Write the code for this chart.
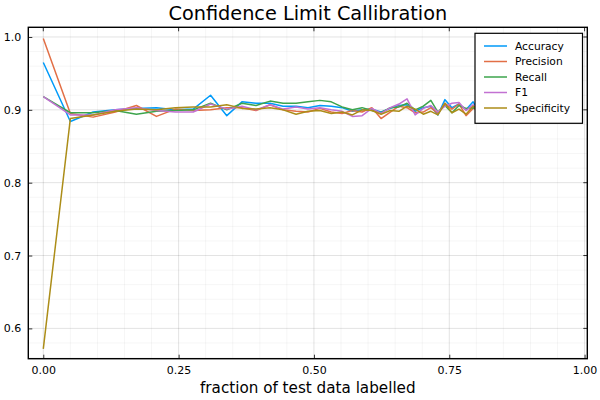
<!DOCTYPE html>
<html>
<head>
<meta charset="utf-8">
<script src="https://cdn.jsdelivr.net/npm/d3@7"></script>
<style>
  body { margin: 0; background: #fff; }
  svg { display: block; font-family: "DejaVu Sans", sans-serif; }
</style>
</head>
<body>
<div id="chart"></div>
<script>
const width = 600,
  height = 400;
const marginLeft = 28.3,
  marginRight = 12.7,
  marginTop = 27.3,
  marginBottom = 41.3;

// fraction of test data labelled (x) for each confidence limit
const fractions = [
  0, 0.05, 0.092, 0.133, 0.172, 0.209, 0.244, 0.277, 0.309, 0.339,
  0.367, 0.393, 0.419, 0.443, 0.467, 0.489, 0.511, 0.532, 0.552, 0.571,
  0.589, 0.607, 0.624, 0.641, 0.657, 0.672, 0.687, 0.702, 0.716, 0.729,
  0.742, 0.755, 0.768, 0.781, 0.794, 0.806, 0.818, 0.83, 0.842,
];
const accuracy = [
  0.965, 0.884, 0.897, 0.9, 0.902, 0.903, 0.9, 0.901, 0.92, 0.892,
  0.911, 0.909, 0.909, 0.905, 0.905, 0.903, 0.906, 0.905, 0.903, 0.898,
  0.9, 0.901, 0.897, 0.902, 0.906, 0.907, 0.898, 0.903, 0.905, 0.893,
  0.914, 0.903, 0.908, 0.9, 0.911, 0.897, 0.905, 0.901, 0.906,
];
const precision = [
  0.998, 0.895, 0.89, 0.897, 0.906, 0.891, 0.901, 0.899, 0.9, 0.903,
  0.903, 0.899, 0.907, 0.9, 0.898, 0.897, 0.902, 0.897, 0.895, 0.899,
  0.897, 0.903, 0.888, 0.897, 0.905, 0.903, 0.896, 0.897, 0.903, 0.895,
  0.909, 0.901, 0.908, 0.892, 0.902, 0.899, 0.906, 0.896, 0.903,
];
const recall = [
  0.918, 0.896, 0.896, 0.899, 0.894, 0.898, 0.899, 0.9, 0.909, 0.9,
  0.909, 0.906, 0.912, 0.909, 0.909, 0.911, 0.913, 0.911, 0.904, 0.9,
  0.903, 0.899, 0.896, 0.903, 0.904, 0.909, 0.9, 0.905, 0.913, 0.897,
  0.906, 0.896, 0.906, 0.902, 0.903, 0.901, 0.898, 0.907, 0.899,
];
const f1 = [
  0.918, 0.893, 0.893, 0.9, 0.903, 0.899, 0.897, 0.897, 0.908, 0.901,
  0.905, 0.9, 0.907, 0.901, 0.904, 0.901, 0.903, 0.9, 0.898, 0.891,
  0.892, 0.902, 0.895, 0.903, 0.908, 0.915, 0.893, 0.902, 0.906, 0.897,
  0.905, 0.909, 0.91, 0.899, 0.907, 0.896, 0.904, 0.9, 0.905,
];
const specificity = [
  0.572, 0.888, 0.893, 0.898, 0.901, 0.9, 0.903, 0.904, 0.904, 0.907,
  0.902, 0.901, 0.903, 0.9, 0.894, 0.898, 0.899, 0.895, 0.897, 0.893,
  0.9, 0.899, 0.894, 0.899, 0.898, 0.905, 0.901, 0.894, 0.898, 0.893,
  0.909, 0.896, 0.901, 0.894, 0.905, 0.9, 0.897, 0.903, 0.898,
];

const seriesNames = ["Accuracy", "Precision", "Recall", "F1", "Specificity"];
const seriesValues = [accuracy, precision, recall, f1, specificity];
const colors = ["#009af9", "#e26f46", "#3da44d", "#c271d2", "#ac8d18"];

const xTicks = [0, 0.25, 0.5, 0.75, 1];
const yTicks = [0.6, 0.7, 0.8, 0.9, 1.0];

const svg = d3
  .select("#chart")
  .append("svg")
  .attr("width", width)
  .attr("height", height);

const xScale = d3
  .scaleLinear()
  .domain([-0.0277, 1.005])
  .range([marginLeft, width - marginRight]);
const yScale = d3
  .scaleLinear()
  .domain([0.5584, 1.0133])
  .range([height - marginBottom, marginTop]);

// grid lines (minor then major)
const grid = svg.append("g").attr("stroke", "#000");
grid
  .selectAll(".xminor")
  .data(d3.range(0, 1.001, 0.05))
  .enter()
  .append("line")
  .attr("x1", (d) => xScale(d))
  .attr("x2", (d) => xScale(d))
  .attr("y1", marginTop)
  .attr("y2", height - marginBottom)
  .attr("stroke-opacity", 0.05)
  .attr("stroke-width", 0.8);
grid
  .selectAll(".yminor")
  .data(d3.range(0.56, 1.01, 0.02))
  .enter()
  .append("line")
  .attr("x1", marginLeft)
  .attr("x2", width - marginRight)
  .attr("y1", (d) => yScale(d))
  .attr("y2", (d) => yScale(d))
  .attr("stroke-opacity", 0.05)
  .attr("stroke-width", 0.8);
grid
  .selectAll(".xmajor")
  .data(xTicks)
  .enter()
  .append("line")
  .attr("x1", (d) => xScale(d))
  .attr("x2", (d) => xScale(d))
  .attr("y1", marginTop)
  .attr("y2", height - marginBottom)
  .attr("stroke-opacity", 0.1)
  .attr("stroke-width", 0.8);
grid
  .selectAll(".ymajor")
  .data(yTicks)
  .enter()
  .append("line")
  .attr("x1", marginLeft)
  .attr("x2", width - marginRight)
  .attr("y1", (d) => yScale(d))
  .attr("y2", (d) => yScale(d))
  .attr("stroke-opacity", 0.1)
  .attr("stroke-width", 0.8);

// lines
svg
  .append("defs")
  .append("clipPath")
  .attr("id", "clip")
  .append("rect")
  .attr("x", marginLeft)
  .attr("y", marginTop)
  .attr("width", width - marginLeft - marginRight)
  .attr("height", height - marginTop - marginBottom);

const line = d3
  .line()
  .x((d, i) => xScale(fractions[i]))
  .y((d) => yScale(d));

svg
  .append("g")
  .attr("clip-path", "url(#clip)")
  .selectAll("path")
  .data(seriesValues)
  .enter()
  .append("path")
  .attr("d", line)
  .attr("fill", "none")
  .attr("stroke", (d, i) => colors[i])
  .attr("stroke-width", 1.5)
  .attr("stroke-linejoin", "round");

// axes with inward ticks
const xAxis = d3
  .axisBottom(xScale)
  .tickValues(xTicks)
  .tickFormat(d3.format(".2f"))
  .tickSizeInner(-4)
  .tickSizeOuter(0)
  .tickPadding(8);
const yAxis = d3
  .axisLeft(yScale)
  .tickValues(yTicks)
  .tickFormat(d3.format(".1f"))
  .tickSizeInner(-4)
  .tickSizeOuter(0)
  .tickPadding(7);

const gx = svg
  .append("g")
  .attr("transform", `translate(0,${height - marginBottom})`)
  .call(xAxis);
const gy = svg
  .append("g")
  .attr("transform", `translate(${marginLeft},0)`)
  .call(yAxis);
[gx, gy].forEach((g) => {
  g.select(".domain").remove();
  g.selectAll("text").attr("font-size", 11).attr("fill", "#000").attr("font-family", "DejaVu Sans");
  g.selectAll("line").attr("stroke", "#000").attr("stroke-width", 0.8);
});

// top and right ticks
svg
  .append("g")
  .selectAll("line")
  .data(xTicks)
  .enter()
  .append("line")
  .attr("x1", (d) => xScale(d))
  .attr("x2", (d) => xScale(d))
  .attr("y1", marginTop)
  .attr("y2", marginTop + 4)
  .attr("stroke", "#000")
  .attr("stroke-width", 0.8);
svg
  .append("g")
  .selectAll("line")
  .data(yTicks)
  .enter()
  .append("line")
  .attr("x1", width - marginRight)
  .attr("x2", width - marginRight - 4)
  .attr("y1", (d) => yScale(d))
  .attr("y2", (d) => yScale(d))
  .attr("stroke", "#000")
  .attr("stroke-width", 0.8);

// frame
svg
  .append("rect")
  .attr("x", marginLeft)
  .attr("y", marginTop)
  .attr("width", width - marginLeft - marginRight)
  .attr("height", height - marginTop - marginBottom)
  .attr("fill", "none")
  .attr("stroke", "#000")
  .attr("stroke-width", 1.4);

// title and axis label
svg
  .append("text")
  .text("Confidence Limit Callibration")
  .attr("x", (marginLeft + width - marginRight) / 2)
  .attr("y", 19.5)
  .attr("text-anchor", "middle")
  .attr("font-size", 19.3);
svg
  .append("text")
  .text("fraction of test data labelled")
  .attr("x", (marginLeft + width - marginRight) / 2)
  .attr("y", 393)
  .attr("text-anchor", "middle")
  .attr("font-size", 15.2);

// legend
const legend = svg.append("g").attr("transform", "translate(475,33.3)");
legend
  .append("rect")
  .attr("width", 107.5)
  .attr("height", 90)
  .attr("fill", "#fff")
  .attr("stroke", "#000")
  .attr("stroke-width", 1.2);
const items = legend
  .selectAll(".item")
  .data(seriesNames)
  .enter()
  .append("g")
  .attr("transform", (d, i) => `translate(0,${12.7 + i * 15.5})`);
items
  .append("line")
  .attr("x1", 9)
  .attr("x2", 32)
  .attr("stroke", (d, i) => colors[i])
  .attr("stroke-width", 1.5);
items
  .append("text")
  .text((d) => d)
  .attr("x", 40)
  .attr("dy", "0.35em")
  .attr("font-size", 10.7);
</script>
</body>
</html>
